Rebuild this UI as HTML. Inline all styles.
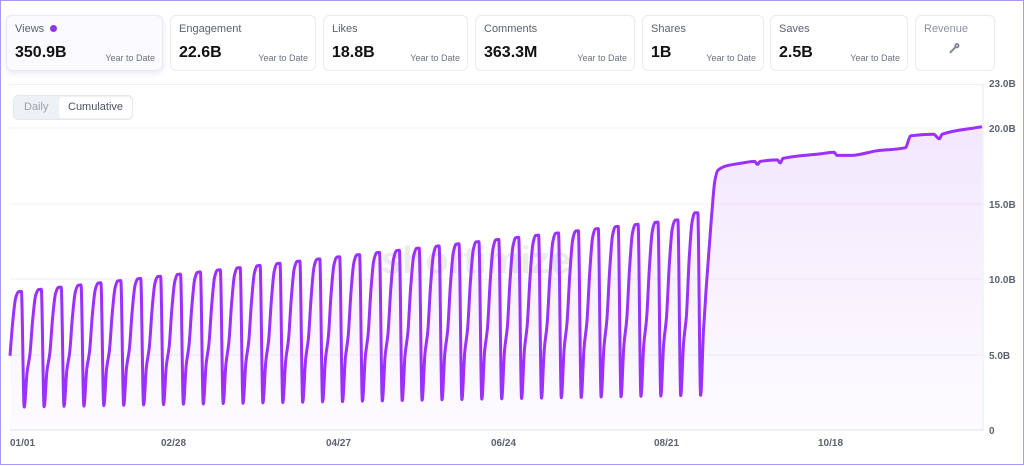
<!DOCTYPE html>
<html><head><meta charset="utf-8"><style>
*{box-sizing:border-box;margin:0;padding:0}
body{width:1024px;height:465px;background:#fff;font-family:"Liberation Sans",sans-serif;position:relative;overflow:hidden;border:1px solid #a99af0}
.card{position:absolute;top:14px;height:56px;border:1px solid #e8ebf0;border-radius:6px;background:#fff}
.card .l{position:absolute;left:8px;top:7px;font-size:11px;color:#5b6270}
.card .v{position:absolute;left:8px;top:28px;font-size:16px;font-weight:bold;color:#111}
.card .y{position:absolute;right:7px;top:37px;font-size:9px;color:#6b7280}
</style></head><body>
<div class="card" style="left:5px;width:157px;background:#fbfaff;box-shadow:0 2px 6px rgba(150,110,240,.18)"><div class="l">Views <span style="display:inline-block;width:7px;height:7px;border-radius:50%;background:#9333ea;margin-left:3px"></span></div><div class="v">350.9B</div><div class="y">Year to Date</div></div>
<div class="card" style="left:169px;width:146px"><div class="l">Engagement</div><div class="v">22.6B</div><div class="y">Year to Date</div></div>
<div class="card" style="left:322px;width:145px"><div class="l">Likes</div><div class="v">18.8B</div><div class="y">Year to Date</div></div>
<div class="card" style="left:474px;width:160px"><div class="l">Comments</div><div class="v">363.3M</div><div class="y">Year to Date</div></div>
<div class="card" style="left:641px;width:122px"><div class="l">Shares</div><div class="v">1B</div><div class="y">Year to Date</div></div>
<div class="card" style="left:769px;width:138px"><div class="l">Saves</div><div class="v">2.5B</div><div class="y">Year to Date</div></div>
<div class="card" style="left:914px;width:80px"><div class="l" style="color:#8a92a0">Revenue</div><div style="position:absolute;left:30px;top:24px;width:18px;height:18px;color:#7c8596;font-size:16px;font-weight:bold;transform:rotate(-45deg);text-align:center;line-height:18px">⊸</div></div>
<div style="position:absolute;left:8px;top:83px;width:974px;height:1px;background:#eef0f4"></div>
<div style="position:absolute;left:12px;top:94px;width:120px;height:25px;border:1px solid #e4e7ee;border-radius:5px;background:#eef1f6">
<div style="position:absolute;left:10px;top:5px;font-size:11px;color:#9aa2b0">Daily</div>
<div style="position:absolute;left:45px;top:1px;width:73px;height:21px;background:#fff;border-radius:4px;font-size:11px;color:#4b5263;padding:4px 0 0 9px">Cumulative</div></div>
<svg id="s" width="1024" height="465" style="position:absolute;left:0;top:0">
<defs><linearGradient id="g" x1="0" y1="0" x2="0" y2="1"><stop offset="0" stop-color="#a855f7" stop-opacity=".14"/><stop offset="1" stop-color="#a855f7" stop-opacity=".02"/></linearGradient></defs>
<g stroke="#f1f2f6" stroke-width="1"><line x1="9" x2="982" y1="127" y2="127"/><line x1="9" x2="982" y1="203" y2="203"/><line x1="9" x2="982" y1="278" y2="278"/><line x1="9" x2="982" y1="354" y2="354"/></g>
<line x1="9" x2="982" y1="429" y2="429" stroke="#dfe3ec"/>
<line x1="982" x2="982" y1="83" y2="429" stroke="#e6e9ef"/>
<text x="380" y="272" font-size="38" font-weight="bold" fill="#ececec" font-family="Liberation Sans,sans-serif">shortimize</text>
<path id="a" fill="url(#g)"/><path id="p" fill="none" stroke="#9b30ff" stroke-width="3" stroke-linejoin="round"/>
<g font-size="10" font-weight="bold" fill="#5b6270" font-family="Liberation Sans,sans-serif">
<text x="988" y="86">23.0B</text><text x="988" y="131">20.0B</text><text x="988" y="207">15.0B</text><text x="988" y="282">10.0B</text><text x="988" y="358">5.0B</text><text x="988" y="433">0</text>
<text x="9" y="445">01/01</text><text x="160" y="445">02/28</text><text x="325" y="445">04/27</text><text x="490" y="445">06/24</text><text x="653" y="445">08/21</text><text x="817" y="445">10/18</text></g>
</svg>
<script>
var X=d=>9+d*2.842,Y=v=>429-v*15.09,pts=[];
var fr=[0.45,0.75,0.95,1,1,0,0.3];
for(var d=0;d<=243;d++){var p=9.1+(13.9-9.1)*d/234;if(d>=239)p=14.4;var t=1.5+0.8*d/243;pts.push([d,t+(p-t)*fr[d%7]]);}
var tail=[[244,6.5],[245,9.5],[246,12],[247,14.5],[248,16.5],[249,17.2],[252,17.5],[258,17.7],[262,17.8],[263,17.6],[264,17.8],[270,17.9],[271,17.7],[272,18],[285,18.3],[290,18.4],[291,18.2],[296,18.2],[305,18.5],[315,18.7],[317,19.5],[325,19.6],[327,19.3],[328,19.6],[342,20.1]];
pts=pts.concat(tail);
var P=pts.map(q=>[X(q[0]),Y(q[1])]),n=P.length,m=[],dl=[];
for(var i=0;i<n-1;i++)dl.push((P[i+1][1]-P[i][1])/(P[i+1][0]-P[i][0]));
for(var i=0;i<n;i++){if(i==0)m.push(dl[0]);else if(i==n-1)m.push(dl[n-2]);else if(dl[i-1]*dl[i]<=0)m.push(0);else m.push(2/(1/dl[i-1]+1/dl[i]));}
var dd="M"+P[0][0].toFixed(1)+","+P[0][1].toFixed(1);
for(var i=0;i<n-1;i++){var h=(P[i+1][0]-P[i][0])/3;dd+="C"+(P[i][0]+h).toFixed(1)+","+(P[i][1]+m[i]*h).toFixed(1)+" "+(P[i+1][0]-h).toFixed(1)+","+(P[i+1][1]-m[i+1]*h).toFixed(1)+" "+P[i+1][0].toFixed(1)+","+P[i+1][1].toFixed(1);}
document.getElementById("p").setAttribute("d",dd);
document.getElementById("a").setAttribute("d",dd+"L"+X(342)+",429L9,429Z");
</script>
</body></html>
